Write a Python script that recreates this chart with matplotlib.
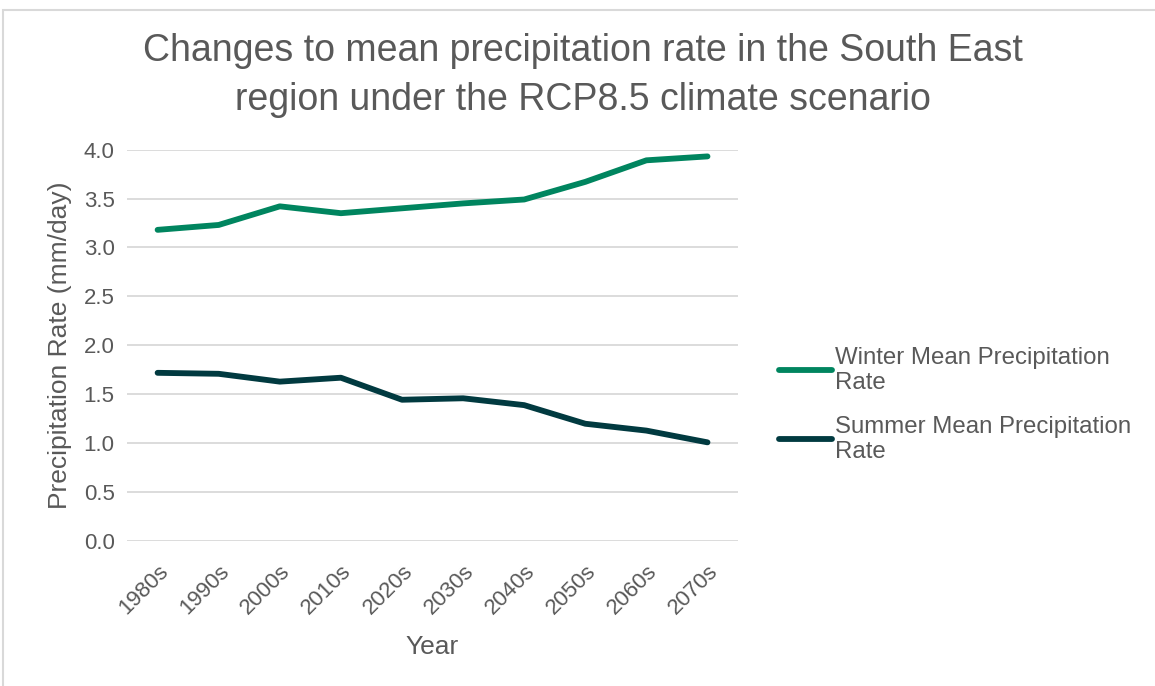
import matplotlib.pyplot as plt
from matplotlib.patches import Rectangle

plt.rcParams['font.family'] = ['Liberation Sans', 'DejaVu Sans']

decades = ['1980s', '1990s', '2000s', '2010s', '2020s', '2030s', '2040s', '2050s', '2060s', '2070s']
winter = [3.18, 3.23, 3.42, 3.35, 3.40, 3.45, 3.49, 3.67, 3.89, 3.93]
summer = [1.72, 1.71, 1.63, 1.67, 1.445, 1.46, 1.39, 1.20, 1.13, 1.01]
yticks = [0.0, 0.5, 1.0, 1.5, 2.0, 2.5, 3.0, 3.5, 4.0]

grey = '#595959'
fig = plt.figure(figsize=(11.55, 6.86), dpi=100)
ax = fig.add_axes([0.110, 0.211, 0.529, 0.571])

x = range(len(decades))
ax.plot(x, winter, color='#00855F', lw=4.2, solid_capstyle='round', label='Winter Mean Precipitation\nRate')
ax.plot(x, summer, color='#013A40', lw=4.2, solid_capstyle='round', label='Summer Mean Precipitation\nRate')

ax.set_xlim(-0.5, len(decades) - 0.5)
ax.set_ylim(0, 4.0)
ax.set_yticks(yticks)
ax.set_yticklabels([f'{v:.1f}' for v in yticks])
ax.set_xticks(list(x))
ax.set_xticklabels(decades, rotation=45, ha='right', rotation_mode='anchor')
ax.tick_params(axis='both', length=0, labelsize=16, colors=grey, pad=9)
ax.tick_params(axis='x', pad=14)
ax.grid(axis='y', color='#D9D9D9', lw=1.3)
ax.set_axisbelow(True)
for s in ax.spines.values():
    s.set_visible(False)

ax.set_xlabel('Year', fontsize=19, color=grey, labelpad=12)
ax.set_ylabel('Precipitation Rate (mm/day)', fontsize=19, color=grey, labelpad=8)

fig.text(0.505, 0.952, 'Changes to mean precipitation rate in the South East\nregion under the RCP8.5 climate scenario',
         ha='center', va='top', fontsize=27, color=grey, linespacing=1.45)

fig.legend(loc='center left', bbox_to_anchor=(0.656, 0.41), frameon=False, fontsize=17.3,
           labelcolor=grey, handlelength=2.2, handletextpad=0.1, labelspacing=0.9)

# outer chart border
fig.patches.append(Rectangle((0.003, -0.1), 1.1, 1.086, transform=fig.transFigure,
                             fill=False, edgecolor='#D9D9D9', lw=1.5))

fig.savefig('out.png', dpi=100)
